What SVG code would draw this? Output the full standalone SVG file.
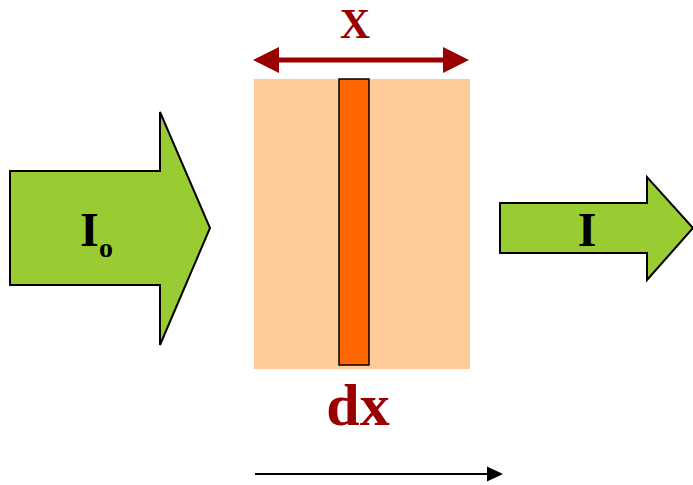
<svg xmlns="http://www.w3.org/2000/svg" width="693" height="485" viewBox="0 0 693 485">
<style>
.big{fill:#99CC33;stroke:#000;stroke-width:2;stroke-linejoin:miter}
.lbl{font-family:"Liberation Serif","Times New Roman",serif;font-weight:bold}
</style>
<rect width="693" height="485" fill="#fff"/>
<g id="slab">
<rect x="254" y="79" width="216" height="290" fill="#FFCC99"/>
<rect x="339" y="79" width="30" height="286" fill="#FF6600" stroke="#000" stroke-width="1.5"/>
</g>
<g id="incident">
<polygon class="big" points="10,171 160,171 160,112 210,228 160,345 160,285 10,285"/>
<text class="lbl" x="80" y="246" font-size="48" fill="#000">I</text>
<text class="lbl" x="99" y="257" font-size="28" fill="#000">o</text>
</g>
<g id="transmitted">
<polygon class="big" points="500,203 647,203 647,177 693,228 647,280 647,253 500,253"/>
<text class="lbl" x="587" y="246" font-size="48" fill="#000" text-anchor="middle">I</text>
</g>
<g id="connectors">
<line x1="275" y1="60" x2="446" y2="60" stroke="#990000" stroke-width="5"/>
<polygon points="253,60 279,47 279,73" fill="#990000"/>
<polygon points="469,60 443,47 443,73" fill="#990000"/>
<line x1="255" y1="474" x2="490" y2="474" stroke="#000" stroke-width="2"/>
<polygon points="503,474 487,466.5 487,481.5" fill="#000"/>
</g>
<g id="labels">
<text class="lbl" x="355" y="38" font-size="42" fill="#990000" text-anchor="middle">X</text>
<text class="lbl" x="358" y="425" font-size="60" fill="#990000" text-anchor="middle">dx</text>
</g>
</svg>
